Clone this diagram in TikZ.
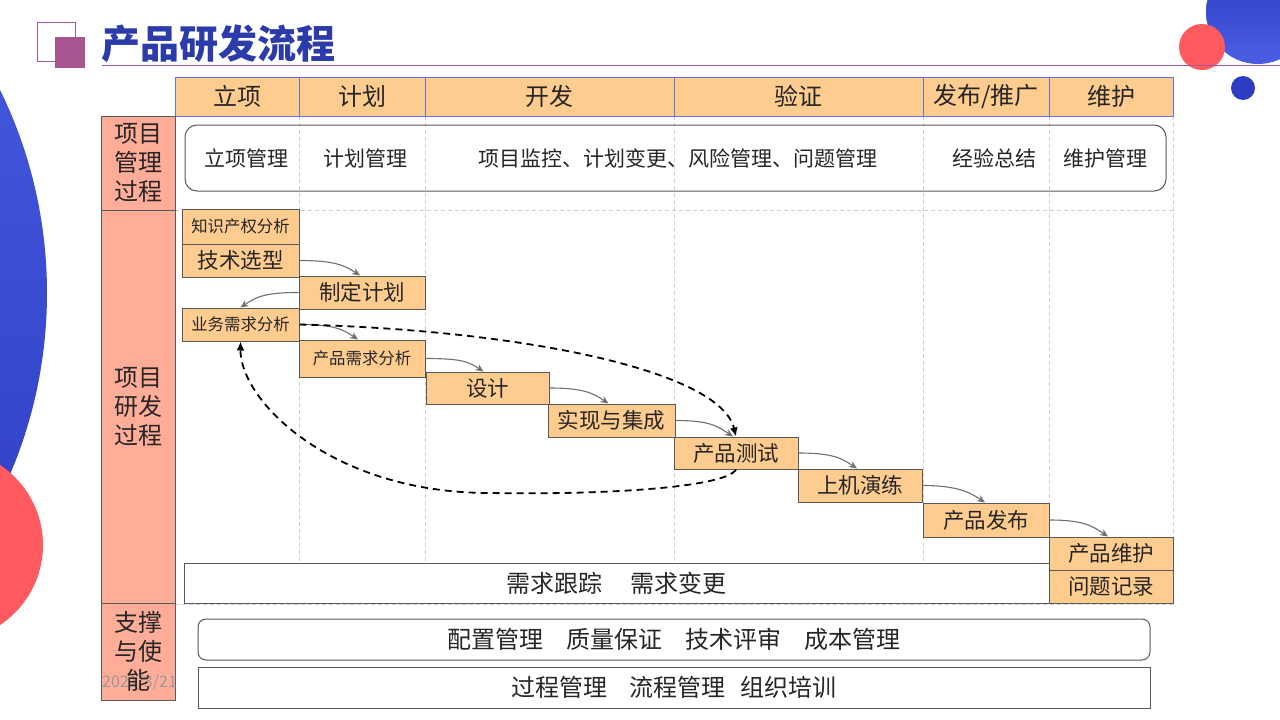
\documentclass[tikz,border=0pt]{standalone}
\usepackage{fontspec}
\setmainfont{Noto Sans CJK SC}
\usetikzlibrary{arrows.meta}
\definecolor{hdrfill}{HTML}{FFCC90}
\definecolor{hdrline}{HTML}{5E75E2}
\definecolor{sidefill}{HTML}{FFAD99}
\definecolor{boxline}{HTML}{595959}
\definecolor{gridcol}{HTML}{D0D0D0}
\definecolor{txt}{HTML}{262626}
\definecolor{titleblue}{HTML}{2B3BA9}
\definecolor{plum}{HTML}{A9558F}
\definecolor{redc}{HTML}{FF5A5F}
\definecolor{bluetop}{HTML}{4A60E4}
\definecolor{bluebot}{HTML}{2A39BE}
\definecolor{arrowgray}{HTML}{707070}
\definecolor{datecol}{HTML}{9A9A9A}
\tikzset{
  hdr/.style={draw=hdrline, line width=1pt, fill=hdrfill, inner sep=0pt, minimum height=39pt, text=txt, font=\fontsize{24}{28}\selectfont},
  side/.style={draw=boxline, line width=1pt, fill=sidefill, inner sep=0pt, minimum width=74pt},
  sidetxt/.style={align=center, inner sep=0pt, text=txt, font=\fontsize{24}{29}\selectfont},
  pmtxt/.style={inner sep=0pt, text=txt, font=\fontsize{21}{24}\selectfont},
  wf/.style={draw=boxline, line width=1pt, fill=hdrfill, inner sep=0pt, text=txt, font=\fontsize{21.5}{24}\selectfont},
  wfs/.style={wf, font=\fontsize{16.4}{19}\selectfont},
  band/.style={draw=boxline, line width=1pt, fill=white, inner sep=0pt, text=txt, font=\fontsize{24}{28}\selectfont},
  gridline/.style={draw=gridcol, line width=0.8pt, dash pattern=on 4pt off 3pt},
  flow/.style={draw=arrowgray, line width=1.1pt, -{Stealth[length=8pt,width=7pt]}},
  loopback/.style={draw=black, line width=1.8pt, dash pattern=on 7pt off 5pt, -{Latex[length=9pt,width=8pt]}}
}
\begin{document}
\begin{tikzpicture}[x=1pt,y=-1pt]
\useasboundingbox (0,0) rectangle (1280,720);
\fill[white] (0,0) rectangle (1280,720);
% decorations
\begin{scope}
\clip (0,0) rectangle (1280,720);
\shade[top color=bluetop, bottom color=bluebot] (-415,293) circle (462);
\fill[redc] (-53,545) circle (96);
\shade[top color=bluebot, bottom color=bluetop] (1258,12) circle (52);
\fill[redc] (1202,47) circle (23);
\fill[bluebot!90!bluetop] (1243,88) circle (12);
\end{scope}
% title
\draw[plum, line width=1pt] (37,22) rectangle (75,61);
\fill[plum] (55,37) rectangle (85,68);
\node[anchor=west, inner sep=0pt, text=titleblue, font=\fontsize{39}{44}\selectfont\bfseries] (title) at (101,44) {产品研发流程};
\draw[plum, line width=1pt] (102,65) -- (1280,65);
% grid
\foreach \gx in {299,425,674,923,1049,1173} {
  \draw[gridline] (\gx,116) -- (\gx,604);
}
\draw[gridline] (175,210) -- (1173,210);
\draw[gridline] (175,604) -- (1173,604);
% header
\node[hdr, minimum width=124pt] (h1) at (237,96.5) {立项};
\node[hdr, minimum width=126pt] (h2) at (362,96.5) {计划};
\node[hdr, minimum width=249pt] (h3) at (549.5,96.5) {开发};
\node[hdr, minimum width=249pt] (h4) at (798.5,96.5) {验证};
\node[hdr, minimum width=126pt] (h5) at (986,96.5) {发布/推广};
\node[hdr, minimum width=124pt] (h6) at (1111,96.5) {维护};
% side column
\node[side, minimum height=94pt] (s1) at (138,163) {};
\node[sidetxt] (s1t) at (s1) {项目\\管理\\过程};
\node[side, minimum height=393pt] (s2) at (138,406.5) {};
\node[sidetxt] (s2t) at (s2) {项目\\研发\\过程};
\node[side, minimum height=97pt] (s3) at (138,651.5) {};
\node[anchor=west, inner sep=0pt, text=datecol, font=\fontsize{16}{18}\selectfont] (date) at (102,683) {2021/3/21};
\node[sidetxt] (s3t) at (s3) {支撑\\与使\\能};
% project management band
\node[draw=boxline, line width=1pt, rounded corners=12pt, minimum width=981pt, minimum height=66pt, inner sep=0pt] (pmbox) at (675.5,158) {};
\node[pmtxt] (pm1) at (246.5,158) {立项管理};
\node[pmtxt] (pm2) at (365,158) {计划管理};
\node[pmtxt] (pm3) at (677.5,158) {项目监控、计划变更、风险管理、问题管理};
\node[pmtxt] (pm4) at (994.5,158) {经验总结};
\node[pmtxt] (pm5) at (1105.5,158) {维护管理};
% requirement band
\node[band, minimum width=865pt, minimum height=40pt] (req) at (616.5,583) {需求跟踪\hspace{29pt}需求变更};
% waterfall
\node[wfs, minimum width=117pt, minimum height=35pt] (ip) at (240.5,226.5) {知识产权分析};
\node[wf, minimum width=117pt, minimum height=33pt] (tech) at (240.5,260.5) {技术选型};
\node[wf, minimum width=126pt, minimum height=33pt] (plan) at (362,292.5) {制定计划};
\node[wfs, minimum width=117pt, minimum height=33pt] (busi) at (240.5,324.5) {业务需求分析};
\node[wfs, minimum width=126pt, minimum height=37pt] (preq) at (362,358.5) {产品需求分析};
\node[wf, minimum width=123pt, minimum height=32pt] (des) at (487.5,388) {设计};
\node[wf, minimum width=127pt, minimum height=33pt] (impl) at (611.5,420.5) {实现与集成};
\node[wf, minimum width=124pt, minimum height=32pt] (ptest) at (736,453) {产品测试};
\node[wf, minimum width=124pt, minimum height=33pt] (drill) at (860,485.5) {上机演练};
\node[wf, minimum width=126pt, minimum height=34pt] (rel) at (986,520) {产品发布};
\node[wf, minimum width=124pt, minimum height=33pt] (maint) at (1111,553.5) {产品维护};
\node[wf, minimum width=124pt, minimum height=33pt] (issue) at (1111,586.5) {问题记录};
% support bands
\node[band, rounded corners=8pt, minimum width=952pt, minimum height=41pt] (sup1) at (674,639.5) {配置管理\hspace{23pt}质量保证\hspace{23pt}技术评审\hspace{23pt}成本管理};
\node[band, minimum width=952pt, minimum height=41pt] (sup2) at (674,687.5) {过程管理\hspace{22pt}流程管理\hspace{15pt}组织培训};
% flow arrows
\draw[flow] (tech.east) .. controls +(35,0) and +(-15,-10) .. ([xshift=-2pt]plan.north);
\draw[flow] (plan.west) .. controls +(-35,0) and +(15,-10) .. (busi.north);
\draw[flow] (busi.east) .. controls +(35,0) and +(-15,-10) .. ([xshift=-4pt]preq.north);
\draw[flow] (preq.east) .. controls +(35,0) and +(-15,-10) .. ([xshift=-4pt]des.north);
\draw[flow] (des.east) .. controls +(35,0) and +(-15,-10) .. ([xshift=-3pt]impl.north);
\draw[flow] (impl.east) .. controls +(35,0) and +(-15,-10) .. ([xshift=-3pt]ptest.north);
\draw[flow] (ptest.east) .. controls +(35,0) and +(-15,-10) .. ([xshift=-3pt]drill.north);
\draw[flow] (drill.east) .. controls +(35,0) and +(-15,-10) .. ([xshift=-1pt]rel.north);
\draw[flow] (rel.east) .. controls +(35,0) and +(-15,-10) .. ([xshift=-3pt]maint.north);
% loop arrows
\draw[loopback] (busi.east) .. controls (520,330) and (720,370) .. (ptest.north);
\draw[loopback] (ptest.south) .. controls (725,488) and (600,495) .. (490,493) .. controls (330,493) and (240,400) .. (busi.south);
\end{tikzpicture}
\end{document}
